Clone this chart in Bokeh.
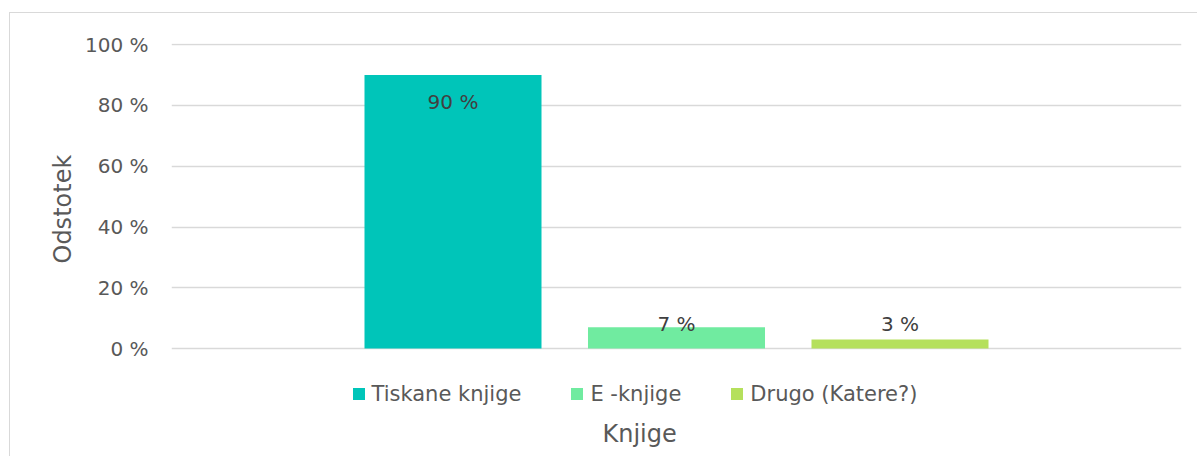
from bokeh.plotting import figure
from bokeh.models import (Range1d, Legend, LegendItem, PrintfTickFormatter,
                          ColumnDataSource, FixedTicker, LabelSet, Title)
from bokeh.embed import file_html
from bokeh.resources import INLINE
from bokeh.core.properties import value

# ---- data ----
categories = ["Tiskane knjige", "E -knjige", "Drugo (Katere?)"]
values = [90, 7, 3]
labels = ["90 %", "7 %", "3 %"]
colors = ["#00C5B9", "#70EBA0", "#B5E05C"]
y_ticks = [0, 20, 40, 60, 80, 100]
x_title = "Knjige"
y_title = "Odstotek"

FONT = "DejaVu Sans"
TXT = "#595959"

xs = [i - (len(values) - 1) / 2 for i in range(len(values))]
label_y = [max(v - 9, 8.2) for v in values]

src = ColumnDataSource(dict(x=xs, top=values, color=colors, cat=categories,
                            lab=labels, ly=label_y))

# frame extends below 0 to hold the legend (legend lives inside the frame)
p = figure(width=1188, height=444, output_backend="svg", toolbar_location=None,
           x_range=Range1d(-2.2595, 2.2595), y_range=Range1d(-20.4, 100.4),
           min_border_left=161, min_border_right=17, min_border_top=30,
           min_border_bottom=47)
p.styles = {"border-left": "1px solid #D9D9D9", "border-top": "1px solid #D9D9D9",
            "margin-left": "9px", "margin-top": "12px"}
p.outline_line_color = None
p.background_fill_color = "white"
p.border_fill_color = "white"

renderers = []
for i in range(len(values)):
    r = p.vbar(x=[xs[i]], top=[values[i]], width=0.792, bottom=0,
               fill_color=colors[i], line_color=None)
    renderers.append(r)

ls = LabelSet(x="x", y="ly", text="lab", source=src, text_align="center",
              text_baseline="middle", text_font=value(FONT), text_font_size="20px",
              text_color="#404040")
p.add_layout(ls)

# y axis
p.yaxis.ticker = FixedTicker(ticks=y_ticks)
p.yaxis.formatter = PrintfTickFormatter(format="%d %%")
p.yaxis.axis_line_color = None
p.yaxis.major_tick_line_color = None
p.yaxis.minor_tick_line_color = None
p.yaxis.major_label_standoff = 17
p.yaxis.major_label_text_font = FONT
p.yaxis.major_label_text_font_size = "20px"
p.yaxis.major_label_text_color = TXT

ytitle = Title(text=y_title, align="left", offset=147, standoff=10,
               text_font=FONT, text_font_size="24px", text_font_style="normal",
               text_color=TXT)
p.add_layout(ytitle, "left")

# x axis (no ticks/labels); the axis title is centred on the whole chart
p.xaxis.visible = False
xtitle = Title(text=x_title, align="left", offset=431, standoff=14,
               text_font=FONT, text_font_size="24px", text_font_style="normal",
               text_color=TXT)
p.add_layout(xtitle, "below")

p.xgrid.visible = False
p.ygrid.ticker = FixedTicker(ticks=y_ticks)
p.ygrid.grid_line_color = "#D9D9D9"
p.ygrid.grid_line_width = 1.5

legend = Legend(items=[LegendItem(label=categories[i], renderers=[renderers[i]])
                       for i in range(len(values))],
                location=(179.5, 4.5), orientation="horizontal",
                border_line_color=None, background_fill_alpha=0,
                padding=0, margin=0, spacing=48, label_standoff=6,
                glyph_width=15, glyph_height=15, label_height=24,
                label_text_font=FONT, label_text_font_size="21px",
                label_text_color=TXT)
p.add_layout(legend, "center")

open("out.html", "w").write(file_html(p, INLINE))
